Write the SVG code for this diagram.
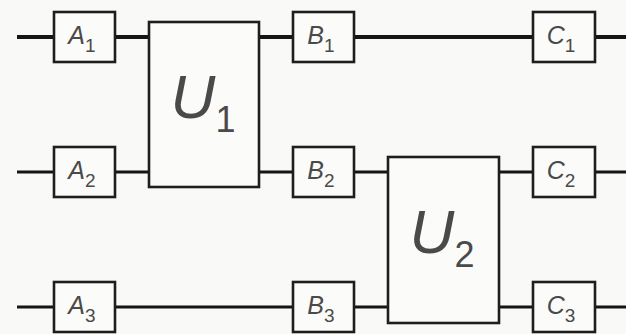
<svg xmlns="http://www.w3.org/2000/svg" width="626" height="334" viewBox="0 0 626 334">
  <style>
    .wire { stroke: #151515; stroke-width: 3; fill: none; }
    .wire.thick { stroke-width: 4; }
    .gate { fill: #fbfbf9; stroke: #1e1e1e; stroke-width: 2.6; }
    .lbl { font-family: "Liberation Sans", Arial, sans-serif; fill: #4a4a4a; text-anchor: middle; }
    .small { font-size: 25px; }
    .sub { font-size: 19px; }
    .big { font-size: 62px; }
    .bigsub { font-size: 36px; }
    .it { font-style: italic; }
  </style>
  <rect width="626" height="334" fill="#f9f9f7"/>

  <!-- qubit wires -->
  <g id="connectors">
    <line class="wire thick" x1="17" y1="37" x2="626" y2="37"/>
    <line class="wire" x1="17" y1="172" x2="626" y2="172"/>
    <line class="wire" x1="17" y1="307" x2="626" y2="307"/>
  </g>

  <!-- single-qubit gates, column A -->
  <g id="A1"><rect class="gate" x="54" y="12" width="61" height="50"/>
    <text class="lbl small" x="82" y="44"><tspan class="it">A</tspan><tspan class="sub" dy="8">1</tspan></text></g>
  <g id="A2"><rect class="gate" x="54" y="147" width="61" height="50"/>
    <text class="lbl small" x="82" y="179"><tspan class="it">A</tspan><tspan class="sub" dy="8">2</tspan></text></g>
  <g id="A3"><rect class="gate" x="54" y="282" width="61" height="50"/>
    <text class="lbl small" x="82" y="314"><tspan class="it">A</tspan><tspan class="sub" dy="8">3</tspan></text></g>

  <!-- two-qubit gate U1 -->
  <g id="U1"><rect class="gate" x="149" y="22" width="110" height="165"/>
    <text class="lbl big" x="203" y="118"><tspan class="it">U</tspan><tspan class="bigsub" dy="14">1</tspan></text></g>

  <!-- column B -->
  <g id="B1"><rect class="gate" x="293" y="12" width="61" height="50"/>
    <text class="lbl small" x="321" y="44"><tspan class="it">B</tspan><tspan class="sub" dy="8">1</tspan></text></g>
  <g id="B2"><rect class="gate" x="293" y="147" width="61" height="50"/>
    <text class="lbl small" x="321" y="179"><tspan class="it">B</tspan><tspan class="sub" dy="8">2</tspan></text></g>
  <g id="B3"><rect class="gate" x="293" y="282" width="61" height="50"/>
    <text class="lbl small" x="321" y="314"><tspan class="it">B</tspan><tspan class="sub" dy="8">3</tspan></text></g>

  <!-- two-qubit gate U2 -->
  <g id="U2"><rect class="gate" x="388" y="157" width="111" height="166"/>
    <text class="lbl big" x="442" y="253"><tspan class="it">U</tspan><tspan class="bigsub" dy="14">2</tspan></text></g>

  <!-- column C -->
  <g id="C1"><rect class="gate" x="533" y="12" width="62" height="50"/>
    <text class="lbl small" x="561" y="44"><tspan class="it">C</tspan><tspan class="sub" dy="8">1</tspan></text></g>
  <g id="C2"><rect class="gate" x="533" y="147" width="62" height="50"/>
    <text class="lbl small" x="561" y="179"><tspan class="it">C</tspan><tspan class="sub" dy="8">2</tspan></text></g>
  <g id="C3"><rect class="gate" x="533" y="282" width="62" height="50"/>
    <text class="lbl small" x="561" y="314"><tspan class="it">C</tspan><tspan class="sub" dy="8">3</tspan></text></g>
</svg>
